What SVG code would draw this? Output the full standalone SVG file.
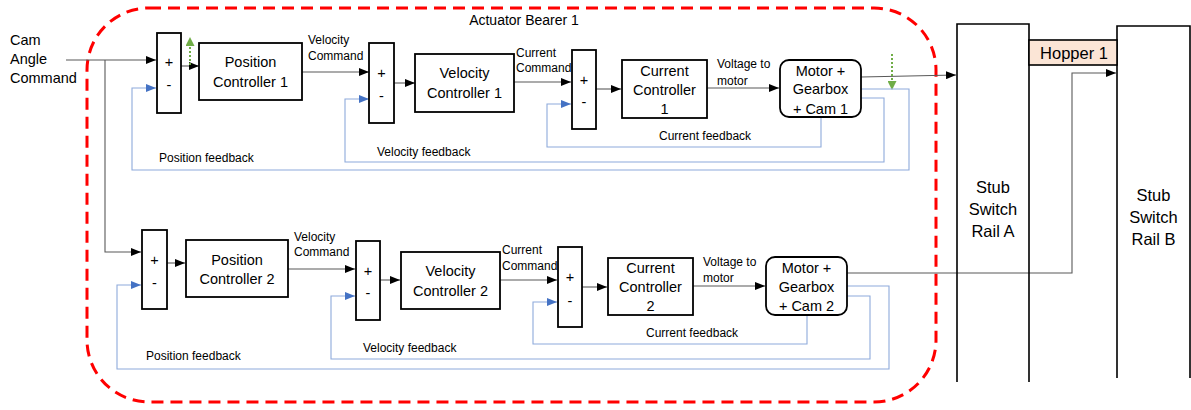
<svg xmlns="http://www.w3.org/2000/svg" width="1191" height="410" viewBox="0 0 1191 410">
<style>
text{font-family:"Liberation Sans",Arial,sans-serif;fill:#000;dominant-baseline:central}
.t{font-size:14.5px;text-anchor:middle}
.s{font-size:12px}
.b{font-size:16.5px;text-anchor:middle}
.box{fill:#fff;stroke:#000;stroke-width:1.8}
.ln{fill:none;stroke:#595959;stroke-width:1.1;marker-end:url(#ak)}
.fb{fill:none;stroke:#8eaadb;stroke-width:1.1;marker-end:url(#ab)}
.gr{fill:none;stroke:#70ad47;stroke-width:2;stroke-dasharray:2 2;marker-end:url(#ag)}
</style>
<defs>
<marker id="ak" markerUnits="userSpaceOnUse" markerWidth="10" markerHeight="8" refX="10" refY="4" orient="auto"><path d="M0,0 L10,4 L0,8 z" fill="#000"/></marker>
<marker id="ab" markerUnits="userSpaceOnUse" markerWidth="10" markerHeight="8" refX="10" refY="4" orient="auto"><path d="M0,0 L10,4 L0,8 z" fill="#4472c4"/></marker>
<marker id="ag" markerUnits="userSpaceOnUse" markerWidth="10" markerHeight="9" refX="9" refY="4.5" orient="auto"><path d="M0,0 L9,4.5 L0,9 z" fill="#70ad47"/></marker>
</defs>
<rect id="bearer" x="87" y="8" width="849" height="394" rx="62" fill="none" stroke="#ff0000" stroke-width="3" stroke-dasharray="12 7"/>
<text class="t" x="524" y="20" style="font-size:14px">Actuator Bearer 1</text>
<g id="cmd"><text class="t" x="10" y="40" style="text-anchor:start">Cam</text><text class="t" x="10" y="59" style="text-anchor:start">Angle</text><text class="t" x="10" y="78" style="text-anchor:start">Command</text></g>
<g id="connectors">
<path class="ln" d="M66,60 H156"/>
<path class="ln" d="M105,60 V252 H141"/>
<path class="ln" d="M181,66 H199"/>
<path class="ln" d="M302,72 H369"/>
<path class="ln" d="M394,83 H415"/>
<path class="ln" d="M514,82 H571"/>
<path class="ln" d="M596,89 H621"/>
<path class="ln" d="M707,88 H779"/>
<path class="ln" d="M861,77 L956,75"/>
<path class="gr" d="M190,65 V37"/>
<path class="gr" d="M892,54 V90"/>
<path class="fb" d="M821,117 V147 H547 V104 H571"/>
<path class="fb" d="M861,98 H884 V162 H345 V99 H369"/>
<path class="fb" d="M861,89 H909 V170 H132 V88 H156"/>
<path class="ln" d="M167,263 H185"/>
<path class="ln" d="M288,269 H355"/>
<path class="ln" d="M380,280 H400"/>
<path class="ln" d="M500,280 H557"/>
<path class="ln" d="M582,287 H607"/>
<path class="ln" d="M693,286 H765"/>
<path class="ln" d="M847,273 H1072 V73 H1116"/>
<path class="fb" d="M807,315 V344 H533 V302 H557"/>
<path class="fb" d="M847,296 H870 V359 H331 V296 H355"/>
<path class="fb" d="M847,286 H889 V369 H117 V285 H141"/>
</g>
<g id="labels">
<text class="s" x="308" y="40">Velocity</text><text class="s" x="308" y="56">Command</text>
<text class="s" x="516" y="53">Current</text><text class="s" x="516" y="68">Command</text>
<text class="s" x="717" y="64">Voltage to</text><text class="s" x="717" y="81">motor</text>
<text class="s" x="159" y="158">Position feedback</text>
<text class="s" x="377" y="152">Velocity feedback</text>
<text class="s" x="659" y="136">Current feedback</text>
<text class="s" x="294" y="237">Velocity</text><text class="s" x="294" y="252">Command</text>
<text class="s" x="502" y="250">Current</text><text class="s" x="502" y="266">Command</text>
<text class="s" x="703" y="262">Voltage to</text><text class="s" x="703" y="278">motor</text>
<text class="s" x="146" y="356">Position feedback</text>
<text class="s" x="363" y="348">Velocity feedback</text>
<text class="s" x="646" y="333">Current feedback</text>
</g>
<g id="sum1"><rect class="box" x="157" y="33" width="24" height="80"/><text class="t" x="169" y="62">+</text><text class="t" x="169" y="85">-</text></g>
<g id="pc1"><rect class="box" x="199" y="43" width="103" height="57"/><text class="t" x="250.5" y="62">Position</text><text class="t" x="250.5" y="82">Controller 1</text></g>
<g id="vsum1"><rect class="box" x="369" y="43" width="25" height="80"/><text class="t" x="381.5" y="73">+</text><text class="t" x="381.5" y="96">-</text></g>
<g id="vc1"><rect class="box" x="415" y="54" width="99" height="58"/><text class="t" x="464.5" y="73">Velocity</text><text class="t" x="464.5" y="93">Controller 1</text></g>
<g id="csum1"><rect class="box" x="572" y="50" width="24" height="79"/><text class="t" x="584" y="80">+</text><text class="t" x="584" y="102">-</text></g>
<g id="cc1"><rect class="box" x="622" y="60" width="85" height="58"/><text class="t" x="664.5" y="71">Current</text><text class="t" x="664.5" y="90">Controller</text><text class="t" x="664.5" y="109">1</text></g>
<g id="motor1"><rect class="box" x="780" y="60" width="81" height="57" rx="9"/><text class="t" x="820.5" y="71">Motor +</text><text class="t" x="820.5" y="89">Gearbox</text><text class="t" x="820.5" y="109">+ Cam 1</text></g>
<g id="sum2"><rect class="box" x="142" y="230" width="25" height="79"/><text class="t" x="154.5" y="260">+</text><text class="t" x="154.5" y="283">-</text></g>
<g id="pc2"><rect class="box" x="186" y="240" width="102" height="57"/><text class="t" x="237" y="260">Position</text><text class="t" x="237" y="279">Controller 2</text></g>
<g id="vsum2"><rect class="box" x="356" y="241" width="24" height="79"/><text class="t" x="368" y="271">+</text><text class="t" x="368" y="293">-</text></g>
<g id="vc2"><rect class="box" x="401" y="252" width="99" height="57"/><text class="t" x="450.5" y="271">Velocity</text><text class="t" x="450.5" y="291">Controller 2</text></g>
<g id="csum2"><rect class="box" x="558" y="247" width="24" height="80"/><text class="t" x="570" y="277">+</text><text class="t" x="570" y="301">-</text></g>
<g id="cc2"><rect class="box" x="608" y="258" width="85" height="57"/><text class="t" x="650.5" y="268">Current</text><text class="t" x="650.5" y="287">Controller</text><text class="t" x="650.5" y="306">2</text></g>
<g id="motor2"><rect class="box" x="766" y="257" width="81" height="58" rx="9"/><text class="t" x="806.5" y="268">Motor +</text><text class="t" x="806.5" y="287">Gearbox</text><text class="t" x="806.5" y="306">+ Cam 2</text></g>
<g id="railA"><path d="M957,382 V24 H1029 V382" fill="none" stroke="#000" stroke-width="1.6"/><text class="b" x="993" y="187">Stub</text><text class="b" x="993" y="209">Switch</text><text class="b" x="993" y="231">Rail A</text></g>
<g id="railB"><path d="M1117,378 V26 H1190 V378" fill="none" stroke="#000" stroke-width="1.6"/><text class="b" x="1153.5" y="195">Stub</text><text class="b" x="1153.5" y="217">Switch</text><text class="b" x="1153.5" y="239">Rail B</text></g>
<g id="hopper"><rect x="1029" y="40" width="88" height="25" fill="#fbe5d6" stroke="#000" stroke-width="1.6"/><text class="b" x="1074" y="53">Hopper 1</text></g>
</svg>
